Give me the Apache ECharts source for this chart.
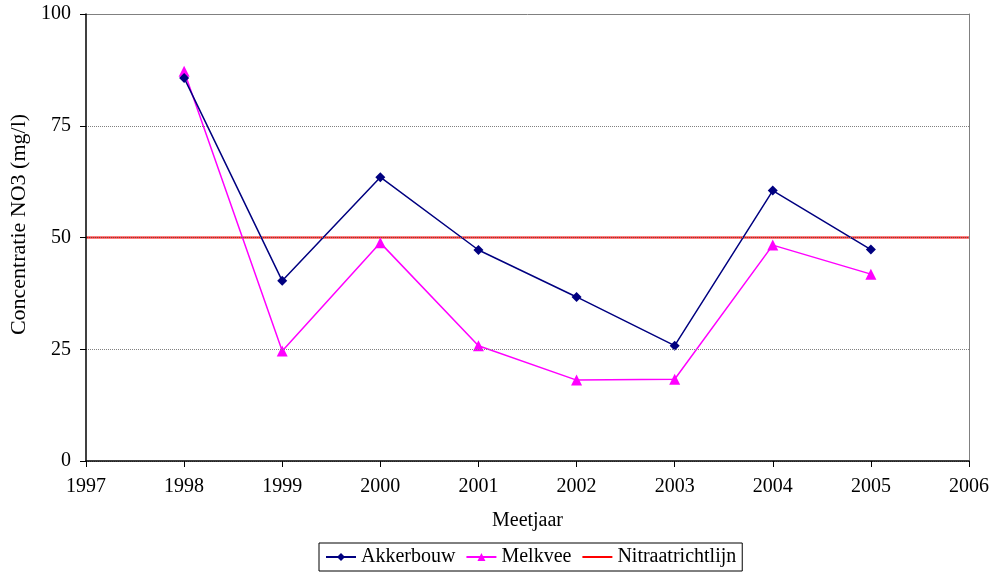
<!DOCTYPE html>
<html>
<head>
<meta charset="utf-8">
<script src="https://cdn.jsdelivr.net/npm/echarts@6/dist/echarts.min.js"></script>
<style>
  html, body { margin: 0; padding: 0; background: #fff; }
  #chart { width: 993px; height: 573px; }
</style>
</head>
<body>
<div id="chart"></div>
<script>
// meetjaren en gemeten concentraties (mg/l NO3)
const years = [1998, 1999, 2000, 2001, 2002, 2003, 2004, 2005];
const akkerbouw = [85.7, 40.3, 63.5, 47.2, 36.7, 25.8, 60.5, 47.3];
const melkvee = [87.2, 24.6, 48.8, 25.8, 18.1, 18.3, 48.3, 41.8];
// nitraatrichtlijn: 50 mg/l over de hele as
const normYears = [1997, 2006];
const normValues = [50, 50];

const pairs = (xs, ys) => xs.map((x, i) => [x, ys[i]]);

const font = 'Liberation Serif, Times New Roman, serif';

const chart = echarts.init(document.getElementById('chart'), null, { renderer: 'canvas' });

// rand boven en rechts: grijze lijn, geen labels
const frameAxis = {
  show: true,
  axisLine: { show: true, onZero: false, lineStyle: { color: '#808080', width: 1 } },
  axisTick: { show: false },
  axisLabel: { show: false },
  splitLine: { show: false }
};

const option = {
  backgroundColor: '#fff',
  animation: false,
  textStyle: { fontFamily: font, color: '#000' },
  grid: {
    left: 84,
    right: 24,
    top: 14,
    bottom: 112
  },
  xAxis: [{
    type: 'value',
    min: 1997,
    max: 2006,
    interval: 1,
    name: 'Meetjaar',
    nameLocation: 'middle',
    nameGap: 50,
    nameTextStyle: { fontFamily: font, fontSize: 20, color: '#000' },
    axisLine: { show: true, onZero: false, lineStyle: { color: '#000', width: 1.5 } },
    axisTick: { show: true, length: 6, lineStyle: { color: '#000' } },
    axisLabel: {
      margin: 16,
      fontFamily: font,
      fontSize: 20,
      color: '#000',
      formatter: v => String(v)
    },
    splitLine: { show: false },
    z: 5
  }, Object.assign({ type: 'value', position: 'top', min: 1997, max: 2006, interval: 1 }, frameAxis)],
  yAxis: [{
    type: 'value',
    min: 0,
    max: 100,
    interval: 25,
    name: 'Concentratie NO3 (mg/l)',
    nameLocation: 'middle',
    nameGap: 56,
    nameTextStyle: { fontFamily: font, fontSize: 22, color: '#000', padding: [0, 0, 0, 26] },
    axisLine: { show: true, lineStyle: { color: '#000', width: 1.5 } },
    axisTick: { show: true, length: 6, lineStyle: { color: '#000' } },
    axisLabel: { margin: 15, fontFamily: font, fontSize: 20, color: '#000' },
    splitLine: { show: true, lineStyle: { color: '#808080', type: [1, 1], width: 1 } },
    z: 5
  }, Object.assign({ type: 'value', position: 'right', min: 0, max: 100, interval: 25 }, frameAxis)],
  legend: {
    bottom: 2,
    left: 319,
    itemWidth: 30,
    itemHeight: 10,
    itemGap: 10,
    padding: [4, 6, 4, 6],
    borderColor: '#000',
    borderWidth: 1,
    textStyle: { fontFamily: font, fontSize: 20, color: '#000' },
    data: [
      'Akkerbouw',
      'Melkvee',
      { name: 'Nitraatrichtlijn', itemStyle: { opacity: 0 } }
    ]
  },
  series: [
    {
      name: 'Nitraatrichtlijn',
      type: 'line',
      data: pairs(normYears, normValues),
      symbol: 'none',
      lineStyle: { color: '#ff0000', width: 2 },
      itemStyle: { color: '#ff0000' },
      z: 1
    },
    {
      name: 'Akkerbouw',
      type: 'line',
      data: pairs(years, akkerbouw),
      symbol: 'diamond',
      symbolSize: 10,
      lineStyle: { color: '#000080', width: 1.5 },
      itemStyle: { color: '#000080' },
      z: 3
    },
    {
      name: 'Melkvee',
      type: 'line',
      data: pairs(years, melkvee),
      symbol: 'triangle',
      symbolSize: 11,
      lineStyle: { color: '#ff00ff', width: 1.5 },
      itemStyle: { color: '#ff00ff' },
      z: 2
    }
  ]
};

chart.setOption(option);
</script>
</body>
</html>
